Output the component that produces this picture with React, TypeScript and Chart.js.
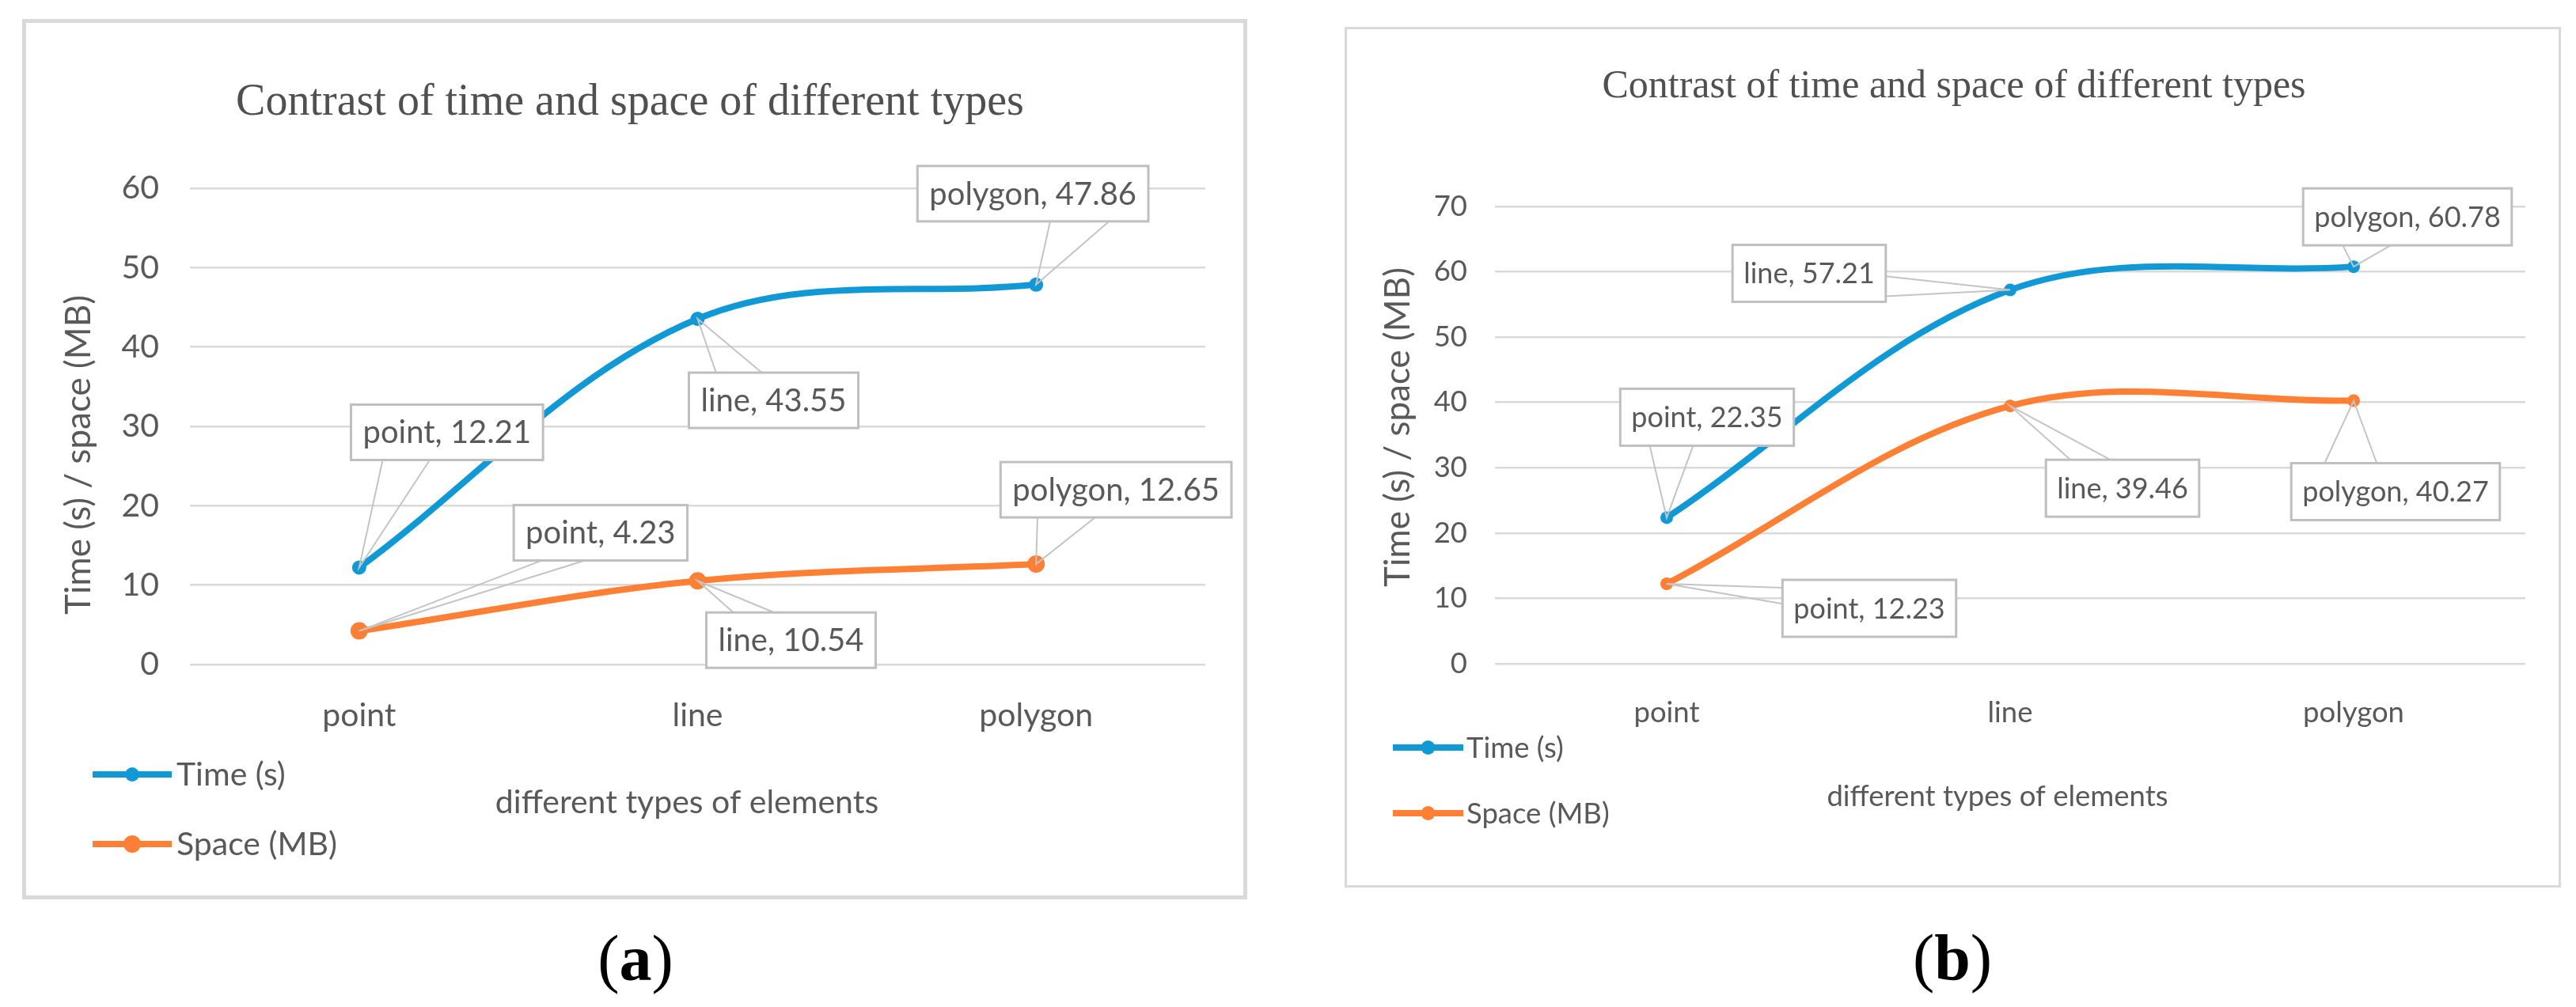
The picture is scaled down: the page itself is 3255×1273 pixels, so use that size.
import React, { useEffect, useRef } from "react";
import { Chart, registerables } from "chart.js";

Chart.register(...registerables);

// ---------- data ----------
const categories = ["point", "line", "polygon"];
const seriesNames = ["Time (s)", "Space (MB)"];
const timeA = [12.21, 43.55, 47.86];
const spaceA = [4.23, 10.54, 12.65];
const timeB = [22.35, 57.21, 60.78];
const spaceB = [12.23, 39.46, 40.27];
const yMaxA = 60;
const yMaxB = 70;
const yStep = 10;
const chartTitle = "Contrast of time and space of different types";
const xAxisTitle = "different types of elements";
const yAxisTitle = "Time (s) / space (MB)";
const captions = ["a", "b"];

// ---------- styles ----------
const SANS = "Lato, 'Open Sans', 'DejaVu Sans', sans-serif";
const SERIF = "'Liberation Serif', 'DejaVu Serif', serif";
const TEXT = "#595959";
const TITLE = "#505050";
const GRID = "#D9D9D9";
const BLUE = "#1199D6";
const ORANGE = "#FF7F35";
const colors = [BLUE, ORANGE];

type Callout = { dx: number; dy: number; side: "top" | "bottom" | "left" | "right"; f: [number, number] };

const calloutsA: Callout[][] = [
  [
    { dx: 111, dy: -171, side: "bottom", f: [0.165, 0.41] },
    { dx: 96, dy: 103, side: "top", f: [0.16, 0.43] },
    { dx: -4, dy: -115, side: "bottom", f: [0.575, 0.83] },
  ],
  [
    { dx: 305, dy: -124, side: "bottom", f: [0.16, 0.41] },
    { dx: 118, dy: 75, side: "top", f: [0.16, 0.4] },
    { dx: 101, dy: -94, side: "bottom", f: [0.16, 0.41] },
  ],
];

const calloutsB: Callout[][] = [
  [
    { dx: 51, dy: -127, side: "bottom", f: [0.17, 0.42] },
    { dx: -254, dy: -21, side: "right", f: [0.55, 0.9] },
    { dx: 68, dy: -63, side: "bottom", f: [0.19, 0.42] },
  ],
  [
    { dx: 256, dy: 31, side: "left", f: [0.14, 0.42] },
    { dx: 142, dy: 104, side: "top", f: [0.16, 0.42] },
    { dx: 53, dy: 115, side: "top", f: [0.16, 0.41] },
  ],
];

type Cfg = {
  series: number[][];
  yMax: number;
  box: { left: number; top: number; width: number; height: number; border: number };
  padTop: number;
  padRight: number;
  yW: number;
  xH: number;
  tickFont: number;
  yTickPad: number;
  xTickPad: number;
  titleFont: number;
  titleX: number;
  titleY: number;
  yTitleFont: number;
  yTitleX: number;
  yTitleY: number;
  xTitleFont: number;
  xTitleX: number;
  xTitleY: number;
  legendFont: number;
  legendX0: number;
  legendX1: number;
  legendTextX: number;
  legendY: number[];
  legendMarker: number[];
  labelFont: number;
  boxPadX: number;
  boxH: number;
  callouts: Callout[][];
  lineWidth: number;
  pointRadius: number[];
  caption: string;
  captionX: number;
  captionY: number;
};

const cfgA: Cfg = {
  series: [timeA, spaceA],
  yMax: yMaxA,
  box: { left: 28, top: 24, width: 1548, height: 1113, border: 5 },
  padTop: 209,
  padRight: 48,
  yW: 207,
  xH: 292,
  tickFont: 41,
  yTickPad: 39,
  xTickPad: 32,
  titleFont: 56,
  titleX: 763,
  titleY: 101,
  yTitleFont: 44,
  yTitleX: 67,
  yTitleY: 546,
  xTitleFont: 41,
  xTitleX: 835,
  xTitleY: 986,
  legendFont: 41,
  legendX0: 84,
  legendX1: 184,
  legendTextX: 190,
  legendY: [950, 1038],
  legendMarker: [9, 11],
  labelFont: 40,
  boxPadX: 15,
  boxH: 70,
  callouts: calloutsA,
  lineWidth: 8,
  pointRadius: [9, 11],
  caption: captions[0],
  captionX: 803,
  captionY: 1212,
};

const cfgB: Cfg = {
  series: [timeB, spaceB],
  yMax: yMaxB,
  box: { left: 1699, top: 34, width: 1537, height: 1088, border: 3 },
  padTop: 224,
  padRight: 42,
  yW: 187,
  xH: 280,
  tickFont: 36.5,
  yTickPad: 35,
  xTickPad: 32,
  titleFont: 50,
  titleX: 767,
  titleY: 73,
  yTitleFont: 44,
  yTitleX: 65,
  yTitleY: 503,
  xTitleFont: 36.5,
  xTitleX: 822,
  xTitleY: 970,
  legendFont: 36.5,
  legendX0: 58,
  legendX1: 147,
  legendTextX: 151,
  legendY: [908, 991],
  legendMarker: [9, 9],
  labelFont: 36,
  boxPadX: 14,
  boxH: 72,
  callouts: calloutsB,
  lineWidth: 8,
  pointRadius: [8, 8],
  caption: captions[1],
  captionX: 2467,
  captionY: 1211,
};

function makeOverlay(cfg: Cfg) {
  return {
    id: "overlay",
    afterDatasetsDraw(chart: any) {
      const ctx: CanvasRenderingContext2D = chart.ctx;
      ctx.save();
      ctx.font = `${cfg.labelFont}px ${SANS}`;
      chart.data.datasets.forEach((ds: any, di: number) => {
        const meta = chart.getDatasetMeta(di);
        meta.data.forEach((el: any, i: number) => {
          const p = cfg.callouts[di][i];
          const label = `${chart.data.labels[i]}, ${Number(ds.data[i]).toFixed(2)}`;
          const tw = ctx.measureText(label).width;
          const w = tw + 2 * cfg.boxPadX;
          const h = cfg.boxH;
          const cx = el.x + p.dx;
          const cy = el.y + p.dy;
          const x0 = cx - w / 2;
          const y0 = cy - h / 2;
          let b1: number[] = [0, 0];
          let b2: number[] = [0, 0];
          if (p.side === "bottom") {
            b1 = [x0 + w * p.f[0], y0 + h];
            b2 = [x0 + w * p.f[1], y0 + h];
          } else if (p.side === "top") {
            b1 = [x0 + w * p.f[0], y0];
            b2 = [x0 + w * p.f[1], y0];
          } else if (p.side === "left") {
            b1 = [x0, y0 + h * p.f[0]];
            b2 = [x0, y0 + h * p.f[1]];
          } else {
            b1 = [x0 + w, y0 + h * p.f[0]];
            b2 = [x0 + w, y0 + h * p.f[1]];
          }
          ctx.strokeStyle = "#C4C4C4";
          ctx.lineWidth = 2;
          ctx.beginPath();
          ctx.moveTo(b1[0], b1[1]);
          ctx.lineTo(el.x, el.y);
          ctx.lineTo(b2[0], b2[1]);
          ctx.stroke();
          ctx.fillStyle = "#FFFFFF";
          ctx.fillRect(x0, y0, w, h);
          ctx.strokeStyle = "#BFBFBF";
          ctx.lineWidth = 3;
          ctx.strokeRect(x0, y0, w, h);
          ctx.fillStyle = TEXT;
          ctx.textAlign = "center";
          ctx.textBaseline = "middle";
          ctx.fillText(label, cx, cy + 1);
        });
      });
      ctx.restore();
    },
    afterDraw(chart: any) {
      const ctx: CanvasRenderingContext2D = chart.ctx;
      ctx.save();
      ctx.textAlign = "center";
      ctx.textBaseline = "middle";
      // title
      ctx.fillStyle = TITLE;
      ctx.font = `${cfg.titleFont}px ${SERIF}`;
      ctx.fillText(chartTitle, cfg.titleX, cfg.titleY);
      ctx.fillStyle = TEXT;
      // x title
      ctx.font = `${cfg.xTitleFont}px ${SANS}`;
      ctx.fillText(xAxisTitle, cfg.xTitleX, cfg.xTitleY);
      // y title
      ctx.save();
      ctx.translate(cfg.yTitleX, cfg.yTitleY);
      ctx.rotate(-Math.PI / 2);
      ctx.font = `${cfg.yTitleFont}px ${SANS}`;
      ctx.fillText(yAxisTitle, 0, 0);
      ctx.restore();
      // legend
      chart.data.datasets.forEach((ds: any, di: number) => {
        const y = cfg.legendY[di];
        ctx.strokeStyle = ds.borderColor;
        ctx.lineWidth = cfg.lineWidth;
        ctx.lineCap = "butt";
        ctx.beginPath();
        ctx.moveTo(cfg.legendX0, y);
        ctx.lineTo(cfg.legendX1, y);
        ctx.stroke();
        ctx.fillStyle = ds.borderColor;
        ctx.beginPath();
        ctx.arc((cfg.legendX0 + cfg.legendX1) / 2, y, cfg.legendMarker[di], 0, Math.PI * 2);
        ctx.fill();
        ctx.fillStyle = TEXT;
        ctx.textAlign = "left";
        ctx.font = `${cfg.legendFont}px ${SANS}`;
        ctx.fillText(ds.label, cfg.legendTextX, y + 1);
      });
      ctx.restore();
    },
  };
}

function Panel({ cfg }: { cfg: Cfg }) {
  const ref = useRef<HTMLCanvasElement | null>(null);
  const cw = cfg.box.width - 2 * cfg.box.border;
  const ch = cfg.box.height - 2 * cfg.box.border;

  useEffect(() => {
    if (!ref.current) return;
    const tickFont = { family: SANS, size: cfg.tickFont };
    const chart = new Chart(ref.current, {
      type: "line",
      data: {
        labels: categories,
        datasets: cfg.series.map((s, i) => ({
          label: seriesNames[i],
          data: s,
          borderColor: colors[i],
          backgroundColor: colors[i],
          borderWidth: cfg.lineWidth,
          pointRadius: cfg.pointRadius[i],
          pointBackgroundColor: colors[i],
          pointBorderWidth: 0,
          tension: 0.35,
          fill: false,
        })),
      },
      options: {
        animation: false,
        responsive: false,
        devicePixelRatio: 1,
        events: [],
        layout: { padding: { top: cfg.padTop, right: cfg.padRight, left: 0, bottom: 0 } },
        plugins: {
          legend: { display: false },
          title: { display: false },
          tooltip: { enabled: false },
        },
        scales: {
          x: {
            type: "category",
            offset: true,
            grid: { display: false },
            border: { display: false },
            ticks: { font: tickFont, color: TEXT, padding: cfg.xTickPad, maxRotation: 0 },
            afterFit: (s: any) => {
              s.height = cfg.xH;
            },
          },
          y: {
            min: 0,
            max: cfg.yMax,
            grid: { color: GRID, lineWidth: 2.5, drawTicks: false },
            border: { display: false },
            ticks: { stepSize: yStep, font: tickFont, color: TEXT, padding: cfg.yTickPad },
            afterFit: (s: any) => {
              s.width = cfg.yW;
            },
          },
        },
      } as any,
      plugins: [makeOverlay(cfg)],
    });
    return () => chart.destroy();
  }, [cfg]);

  return (
    <>
      <div
        style={{
          position: "absolute",
          left: cfg.box.left,
          top: cfg.box.top,
          width: cfg.box.width,
          height: cfg.box.height,
          border: `${cfg.box.border}px solid ${GRID}`,
          boxSizing: "border-box",
          background: "#fff",
        }}
      >
        <canvas ref={ref} width={cw} height={ch} style={{ display: "block", width: cw, height: ch }} />
      </div>
      <div
        style={{
          position: "absolute",
          left: cfg.captionX,
          top: cfg.captionY,
          transform: "translate(-50%, -50%)",
          fontFamily: SERIF,
          fontSize: 82,
          color: "#000",
          lineHeight: 1,
          whiteSpace: "nowrap",
        }}
      >
        (<b>{cfg.caption}</b>)
      </div>
    </>
  );
}

export default function App() {
  return (
    <div
      style={{
        position: "absolute",
        left: 0,
        top: 0,
        width: 3255,
        height: 1273,
        background: "#fff",
        overflow: "hidden",
      }}
    >
      <Panel cfg={cfgA} />
      <Panel cfg={cfgB} />
    </div>
  );
}
